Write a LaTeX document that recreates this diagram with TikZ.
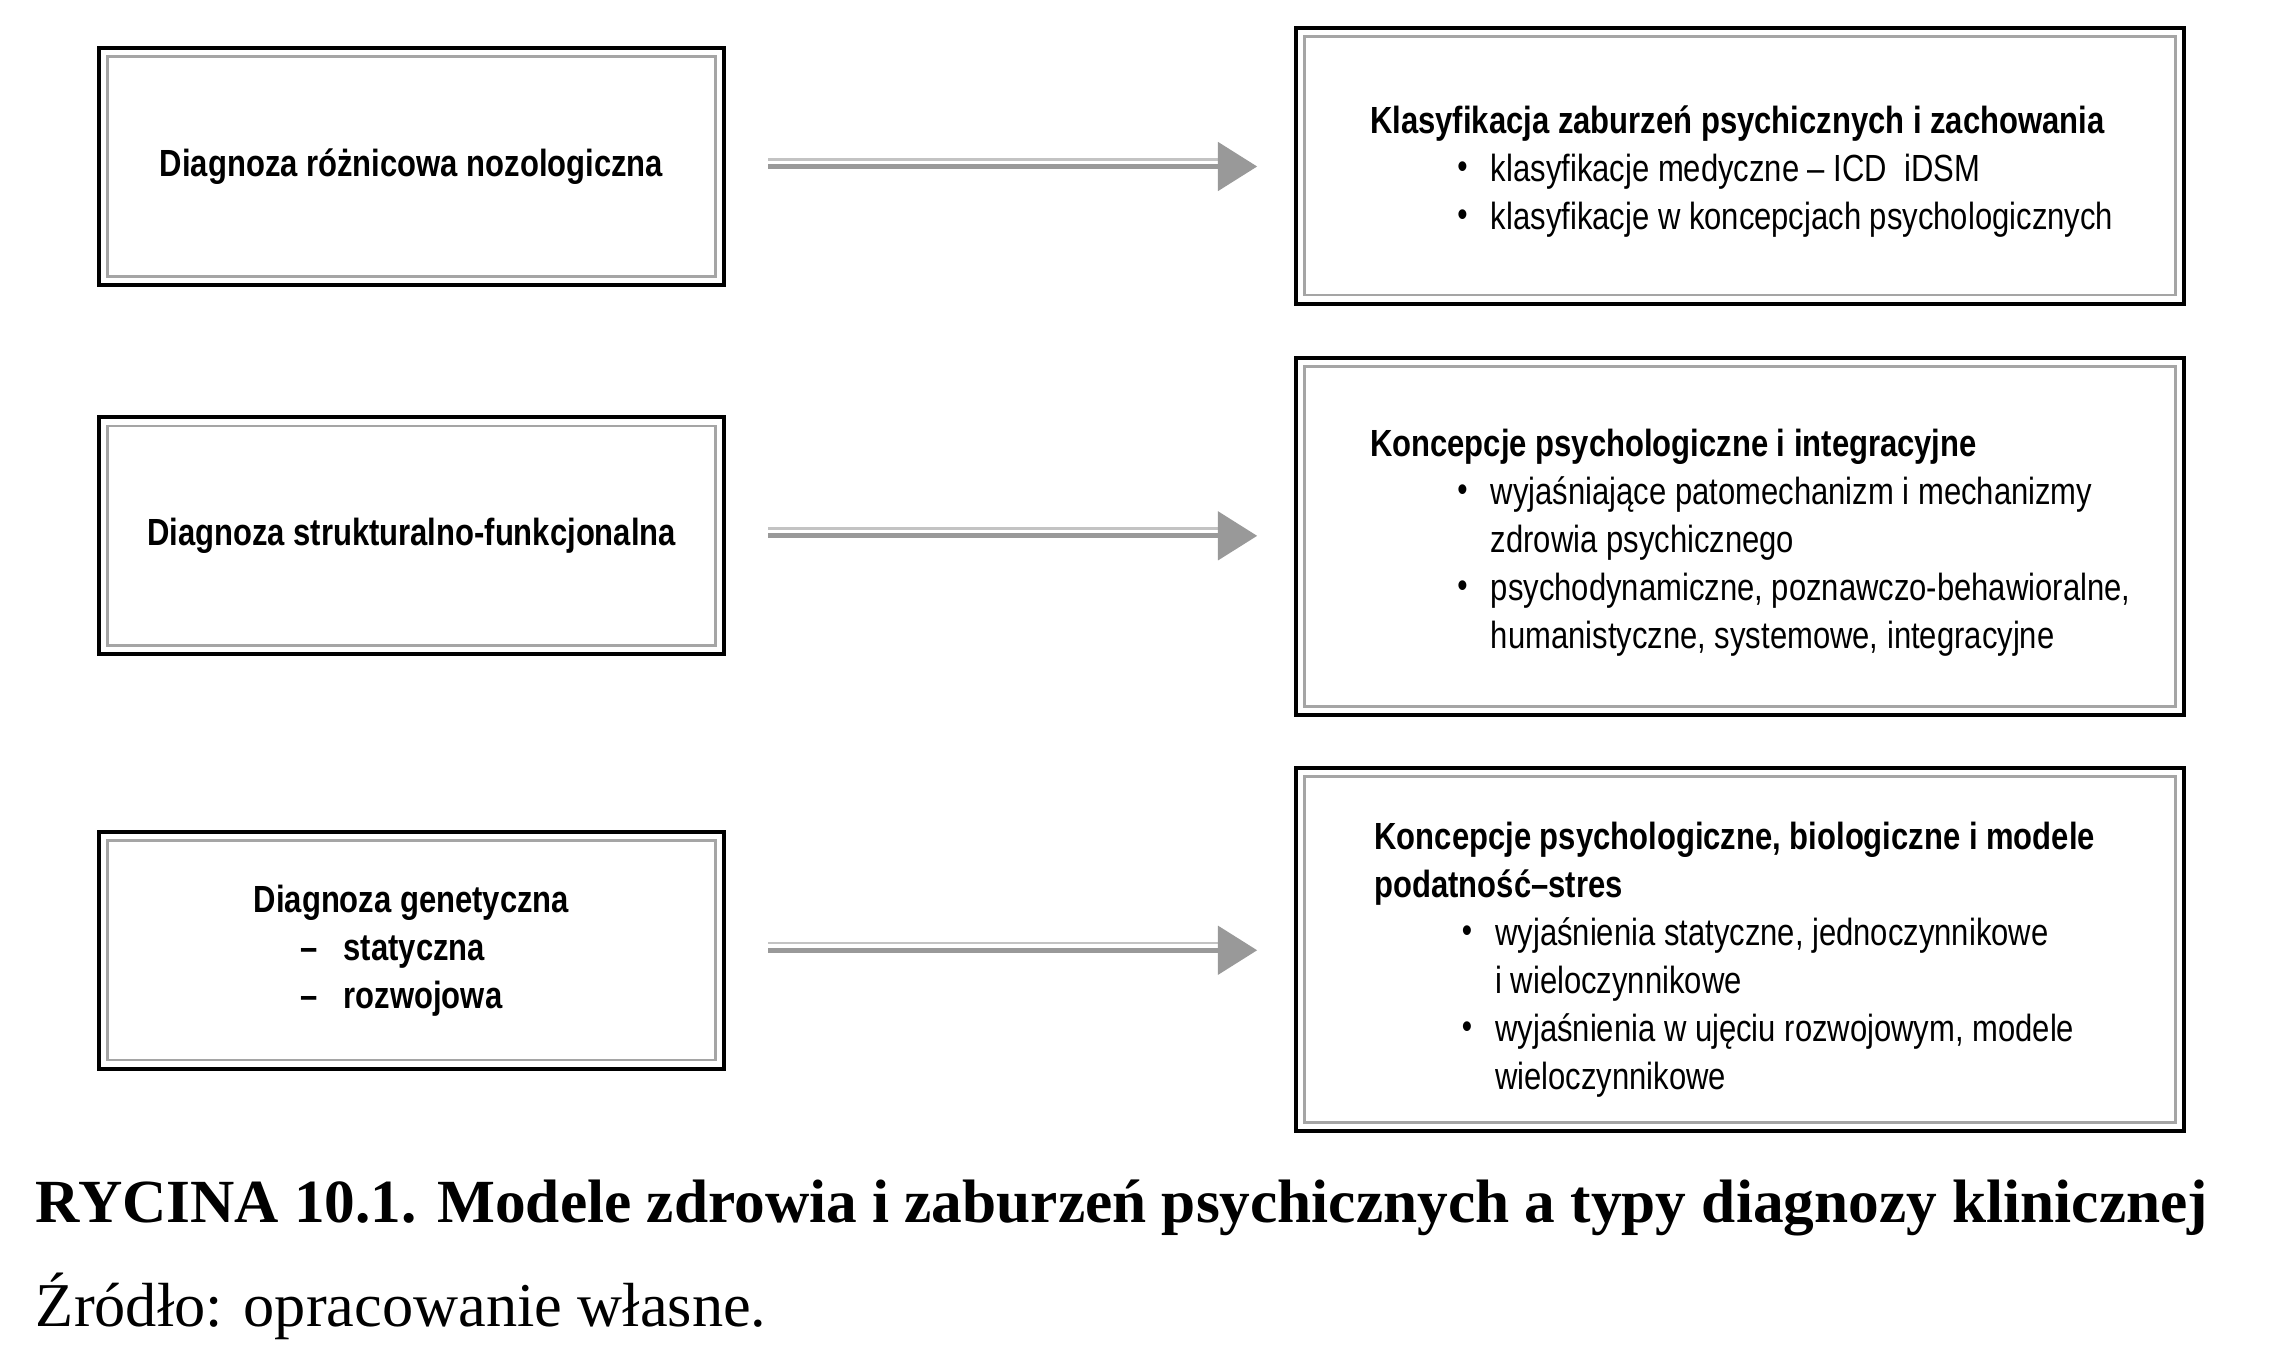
\documentclass[tikz,border=0pt]{standalone}
\usepackage{fontspec}
\setmainfont{Liberation Serif}
\newfontfamily\boxfont[FakeStretch=0.82]{Liberation Sans}
\usetikzlibrary{positioning,arrows.meta}
\definecolor{arrowgray}{RGB}{153,153,153}
\definecolor{linegray}{RGB}{195,195,195}
\definecolor{framegray}{RGB}{165,165,165}
\newcommand{\bul}{\hspace*{0.6cm}\makebox[0.23cm][l]{\raisebox{0.15ex}{\scriptsize\textbullet}}}
\newcommand{\cnt}{\hspace*{0.83cm}}
\begin{document}
\begin{tikzpicture}[
frame/.style={draw, line width=0.8pt, inner sep=0pt,
  path picture={\draw[framegray, line width=0.5pt]
    ([shift={(0.06,-0.06)}]path picture bounding box.north west) rectangle
    ([shift={(-0.06,0.06)}]path picture bounding box.south east);}},
lbox/.style={frame, minimum width=4.3cm, minimum height=1.63cm, align=center,
  font=\boxfont\bfseries\fontsize{7.4}{9.4}\selectfont},
rbox/.style={frame, minimum width=6.11cm},
rtext/.style={align=left, inner sep=0pt, yshift=-0.04cm, font=\boxfont\fontsize{7.4}{9.4}\selectfont},
arrowbar/.style={arrowgray, line width=1pt, shorten <=0.29cm, shorten >=0.25cm,
  -{Triangle[length=0.27cm, width=0.33cm]},
  preaction={draw=linegray, line width=0.5pt, arrows=-, shorten >=0.52cm,
    transform canvas={yshift=0.05cm}}}
]
\useasboundingbox (0,0) rectangle (15.68,-9.35);
\node[lbox] (l1) at (2.83,-1.145) {Diagnoza różnicowa nozologiczna};
\node[lbox] (l2) at (2.83,-3.685) {Diagnoza strukturalno-funkcjonalna};
\node[lbox, align=left] (l3) at (2.83,-6.535) {\rule{0pt}{0.2cm}Diagnoza genetyczna\\
\hspace*{0.32cm}–\hspace*{0.18cm}statyczna\\
\hspace*{0.32cm}–\hspace*{0.18cm}rozwojowa};
\node[rbox, minimum height=1.90cm] (r1) at (11.965,-1.14) {};
\node[rbox, minimum height=2.46cm] (r2) at (11.965,-3.69) {};
\node[rbox, minimum height=2.50cm] (r3) at (11.965,-6.53) {};
\node[rtext, right=0.52cm of r1.west] (t1) {\textbf{Klasyfikacja zaburzeń psychicznych i zachowania}\\
\bul klasyfikacje medyczne – ICD\ \ iDSM\\
\bul klasyfikacje w koncepcjach psychologicznych};
\node[rtext, right=0.52cm of r2.west] (t2) {\textbf{Koncepcje psychologiczne i integracyjne}\\
\bul wyjaśniające patomechanizm i mechanizmy\\
\cnt zdrowia psychicznego\\
\bul psychodynamiczne, poznawczo-behawioralne,\\
\cnt humanistyczne, systemowe, integracyjne};
\node[rtext, right=0.55cm of r3.west, yshift=-0.03cm] (t3) {\textbf{Koncepcje psychologiczne, biologiczne i modele}\\
\textbf{podatność–stres}\\
\bul wyjaśnienia statyczne, jednoczynnikowe\\
\cnt i wieloczynnikowe\\
\bul wyjaśnienia w ujęciu rozwojowym, modele\\
\cnt wieloczynnikowe};
\foreach \i in {1,2,3}
\draw[arrowbar] (l\i.east) -- (l\i.east -| r\i.west);
\node[anchor=base west, inner sep=0pt, font=\bfseries\fontsize{12}{14}\selectfont] (cap) at (0.24,-8.41) {RYCINA 10.1. Modele zdrowia i zaburzeń psychicznych a typy diagnozy klinicznej};
\node[anchor=base west, inner sep=0pt, font=\fontsize{12.2}{14}\selectfont] (src) at (0.24,-9.12) {Źródło: opracowanie własne.};
\end{tikzpicture}
\end{document}
